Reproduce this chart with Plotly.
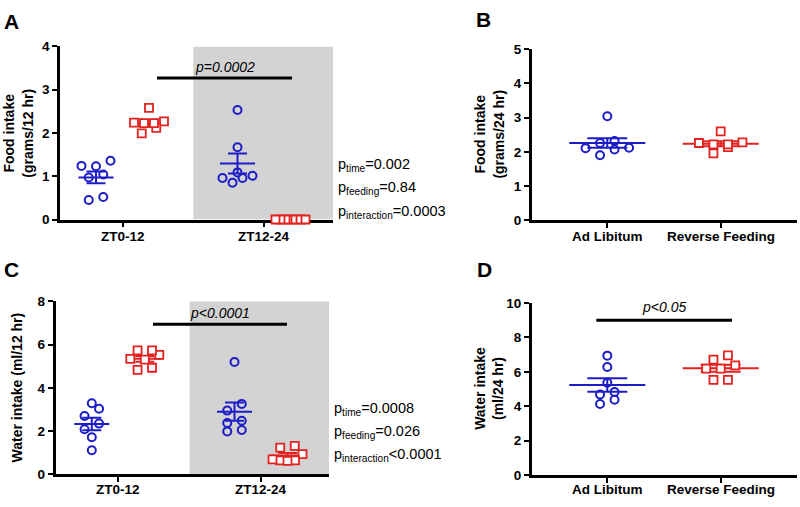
import numpy as np
import plotly.graph_objects as go

W, H = 800, 507

# ---------------- data ----------------
time_labels = ["ZT0-12", "ZT12-24"]
feed_labels = ["Ad Libitum", "Reverse Feeding"]

# Panel A: food intake (grams/12 hr)
food12_adlib_zt0 = [1.23, 1.36, 1.24, 0.97, 1.04, 0.45, 0.52]
food12_rev_zt0 = [2.27, 2.58, 2.23, 2.24, 2.12, 2.23, 1.99]
food12_adlib_zt12 = [2.53, 1.67, 1.09, 1.01, 0.96, 0.96, 0.85]
food12_rev_zt12 = [0.0, 0.0, 0.0, 0.0, 0.0, 0.0, 0.0]

# Panel B: food intake (grams/24 hr)
food24_adlib = [3.04, 2.26, 2.32, 2.11, 2.07, 2.12, 1.90]
food24_rev = [2.60, 2.28, 2.22, 2.26, 2.14, 2.22, 1.96]

# Panel C: water intake (ml/12 hr)
water12_adlib_zt0 = [3.29, 3.04, 2.70, 2.09, 2.35, 1.72, 1.12]
water12_rev_zt0 = [5.73, 5.53, 5.73, 5.34, 5.31, 4.83, 4.93]
water12_adlib_zt12 = [5.20, 3.26, 2.95, 2.38, 2.48, 1.99, 2.05]
water12_rev_zt12 = [1.32, 1.24, 0.94, 0.65, 0.65, 0.70, 0.63]

# Panel D: water intake (ml/24 hr)
water24_adlib = [6.94, 6.28, 5.36, 4.68, 4.83, 4.13, 4.38]
water24_rev = [6.95, 6.71, 6.37, 6.18, 6.18, 5.53, 5.53]

sig_A = "p=0.0002"
sig_C = "p&lt;0.0001"
sig_D = "p&lt;0.05"
stats_A = ["p<sub>time</sub>=0.002", "p<sub>feeding</sub>=0.84", "p<sub>interaction</sub>=0.0003"]
stats_C = ["p<sub>time</sub>=0.0008", "p<sub>feeding</sub>=0.026", "p<sub>interaction</sub>&lt;0.0001"]

# ---------------- styling ----------------
BLUE = "#1c1cc8"
RED = "#e3211f"
GRAY = "#d3d3d3"
FONT = "Liberation Sans, Arial, sans-serif"

# panel geometry in pixels
P = {
    "A": dict(ax="", x0=60, x1=333, y0=40.7, y1=219, c0=122.5, dc=141.5, yr=(0, 4), dt=1, mhw=17.5, chw=9.5, span=30, ylab=237),
    "B": dict(ax="2", x0=531.7, x1=796.7, y0=43.3, y1=220, c0=607.3, dc=113.4, yr=(0, 5), dt=1, mhw=38, chw=20, span=60, ylab=237),
    "C": dict(ax="3", x0=55.5, x1=329, y0=303.3, y1=481.7, c0=118.3, dc=142.7, yr=(0, 8), dt=2, mhw=17.5, chw=9.5, span=30, ylab=497),
    "D": dict(ax="4", x0=531.7, x1=796.7, y0=305, y1=482.3, c0=607.3, dc=113.4, yr=(0, 10), dt=2, mhw=38, chw=20, span=60, ylab=497),
}


def swarm_offsets(vals, ppu, spacing=14.5, thresh=8.0, maxspan=30.0):
    n = len(vals)
    order = sorted(range(n), key=lambda i: vals[i])
    rows = []
    for i in order:
        if rows and (vals[i] - vals[rows[-1][0]]) * ppu < thresh:
            rows[-1].append(i)
        else:
            rows.append([i])
    off = [0.0] * n
    for row in rows:
        k = len(row)
        s = spacing if k < 2 else min(spacing, maxspan / (k - 1))
        slots = sorted([(j - (k - 1) / 2) * s for j in range(k)], key=lambda v: (abs(v), v))
        for i, o in zip(row, slots):
            off[i] = o
    return off


fig = go.Figure()


def add_group(pk, vals, center_px_off, cat, color, symbol):
    g = P[pk]
    ax = g["ax"]
    ppu_y = (g["y1"] - g["y0"]) / (g["yr"][1] - g["yr"][0])
    c = cat + center_px_off / g["dc"]
    v = np.array(vals, dtype=float)
    mean = v.mean()
    sem = v.std(ddof=1) / np.sqrt(len(v))
    mh = g["mhw"] / g["dc"]
    ch = g["chw"] / g["dc"]
    lx = [c - mh, c + mh, None, c, c, None, c - ch, c + ch, None, c - ch, c + ch]
    ly = [mean, mean, None, mean - sem, mean + sem, None, mean - sem, mean - sem, None, mean + sem, mean + sem]
    fig.add_trace(go.Scatter(x=lx, y=ly, mode="lines", line=dict(color=color, width=2),
                             xaxis="x" + ax, yaxis="y" + ax, showlegend=False, hoverinfo="skip",
                             cliponaxis=False))
    offs = swarm_offsets(vals, ppu_y, maxspan=g["span"])
    xs = [c + o / g["dc"] for o in offs]
    if symbol == "circle":
        marker = dict(symbol="circle-open", size=8, color=color, line=dict(color=color, width=2))
    else:
        marker = dict(symbol="square", size=8, color="white", line=dict(color=color, width=1.8))
    fig.add_trace(go.Scatter(x=xs, y=vals, mode="markers", marker=marker,
                             xaxis="x" + ax, yaxis="y" + ax, showlegend=False, cliponaxis=False))


GOFF = 26.5
add_group("A", food12_adlib_zt0, -GOFF, 0, BLUE, "circle")
add_group("A", food12_rev_zt0, GOFF, 0, RED, "square")
add_group("A", food12_adlib_zt12, -GOFF, 1, BLUE, "circle")
add_group("A", food12_rev_zt12, GOFF, 1, RED, "square")

add_group("B", food24_adlib, 0, 0, BLUE, "circle")
add_group("B", food24_rev, 0, 1, RED, "square")

add_group("C", water12_adlib_zt0, -GOFF, 0, BLUE, "circle")
add_group("C", water12_rev_zt0, GOFF, 0, RED, "square")
add_group("C", water12_adlib_zt12, -GOFF, 1, BLUE, "circle")
add_group("C", water12_rev_zt12, GOFF, 1, RED, "square")

add_group("D", water24_adlib, 0, 0, BLUE, "circle")
add_group("D", water24_rev, 0, 1, RED, "square")

layout = dict(width=W, height=H, margin=dict(l=0, r=0, t=0, b=0),
              plot_bgcolor="white", paper_bgcolor="white",
              font=dict(family=FONT, color="black"), showlegend=False)

shapes = []
annotations = []


def px(x):
    return x / W


def py(y):
    return 1 - y / H


for pk, g in P.items():
    ax = g["ax"]
    xr = [(g["x0"] - g["c0"]) / g["dc"], (g["x1"] - g["c0"]) / g["dc"]]
    labels = time_labels if pk in ("A", "C") else feed_labels
    layout["xaxis" + ax] = dict(
        domain=[g["x0"] / W, g["x1"] / W], range=xr, anchor="y" + ax,
        tickvals=[0, 1], showticklabels=False, showline=True, linecolor="black", linewidth=2.5,
        ticks="outside", ticklen=5, tickwidth=2, tickcolor="black", showgrid=False, zeroline=False,
        layer="below traces")
    layout["yaxis" + ax] = dict(
        domain=[1 - g["y1"] / H, 1 - g["y0"] / H], range=list(g["yr"]), anchor="x" + ax,
        tickvals=list(range(g["yr"][0], g["yr"][1] + 1, g["dt"])),
        showline=True, linecolor="black", linewidth=2.5,
        ticks="outside", ticklen=5, tickwidth=2, tickcolor="black", showgrid=False, zeroline=False,
        tickfont=dict(family=FONT, size=13.5, color="black", weight="bold"), layer="below traces")
    # category labels placed just under the axis
    for k, lab in enumerate(labels):
        annotations.append(dict(xref="x" + ax, yref="paper", x=k, y=py(g["ylab"]), text="<b>" + lab + "</b>",
                                showarrow=False, xanchor="center", yanchor="middle",
                                font=dict(family=FONT, size=13.5, color="black")))
    if pk in ("A", "C"):
        shapes.append(dict(type="rect", xref="x" + ax, yref="y" + ax, x0=0.5, x1=xr[1],
                           y0=g["yr"][0], y1=g["yr"][1], fillcolor=GRAY, line=dict(width=0), layer="below"))


# significance bars
def sig(pk, xa, xb, yv, ytxt, text):
    ax = P[pk]["ax"]
    shapes.append(dict(type="line", xref="x" + ax, yref="y" + ax, x0=xa, x1=xb, y0=yv, y1=yv,
                       line=dict(color="black", width=3)))
    annotations.append(dict(xref="x" + ax, yref="y" + ax, x=(xa + xb) / 2, y=ytxt, text="<i>" + text + "</i>",
                            showarrow=False, font=dict(family=FONT, size=14, color="black"),
                            xanchor="center", yanchor="middle"))


sig("A", 0.244, 1.198, 3.27, 3.53, sig_A)
sig("C", 0.243, 1.182, 6.94, 7.48, sig_C)
sig("D", -0.097, 1.10, 9.0, 9.78, sig_D)

# stats text
for i, t in enumerate(stats_A):
    annotations.append(dict(xref="paper", yref="paper", x=px(336), y=py(163 + 24 * i), text=t,
                            showarrow=False, xanchor="left", yanchor="middle",
                            font=dict(family=FONT, size=14.5, color="black")))
for i, t in enumerate(stats_C):
    annotations.append(dict(xref="paper", yref="paper", x=px(332), y=py(414 + 24 * i), text=t,
                            showarrow=False, xanchor="left", yanchor="middle",
                            font=dict(family=FONT, size=14.5, color="black")))

# axis titles
ytitles = [
    ("<b>Food intake</b><br><b>(grams/12 hr)</b>", 18.5, 130),
    ("<b>Food intake</b><br><b>(grams/24 hr)</b>", 489.5, 131),
    ("<b>Water intake (ml/12 hr)</b>", 17, 392),
    ("<b>Water intake</b><br><b>(ml/24 hr)</b>", 489.5, 393),
]
for t, x, y in ytitles:
    annotations.append(dict(xref="paper", yref="paper", x=px(x), y=py(y), text=t, textangle=-90,
                            showarrow=False, xanchor="center", yanchor="middle",
                            font=dict(family=FONT, size=14, color="black")))

# panel letters
for t, x, y in [("A", 11.5, 14.5), ("B", 483, 12.5), ("C", 11, 271), ("D", 484, 271)]:
    annotations.append(dict(xref="paper", yref="paper", x=px(x), y=py(y), text="<b>" + t + "</b>",
                            showarrow=False, xanchor="center", yanchor="middle",
                            font=dict(family=FONT, size=21, color="black")))

layout["shapes"] = shapes
layout["annotations"] = annotations
fig.update_layout(**layout)
fig.write_html("out.html", config={"displayModeBar": False},
               post_script="document.body.style.margin='0px';")
